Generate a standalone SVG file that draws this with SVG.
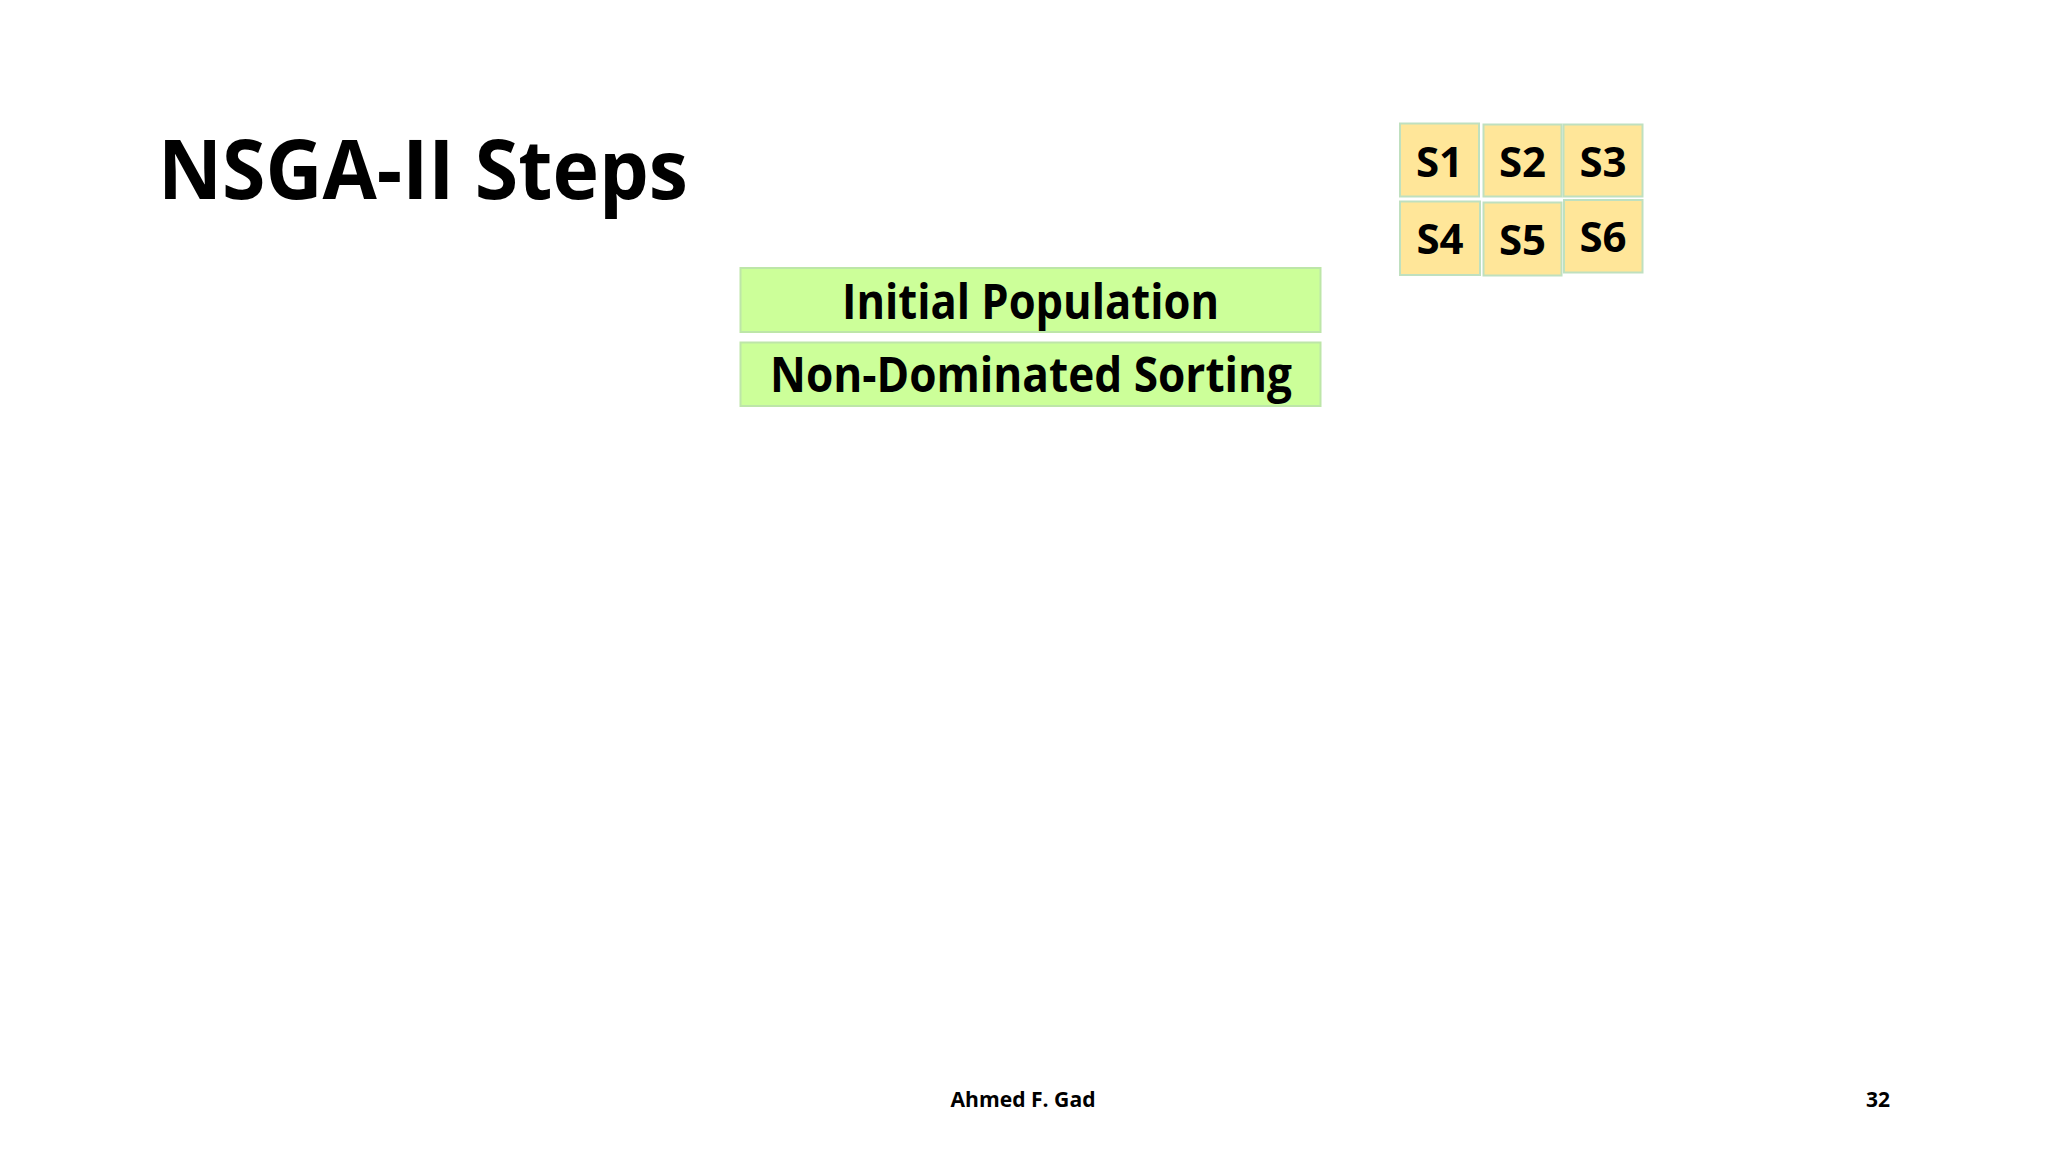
<svg xmlns="http://www.w3.org/2000/svg" width="2048" height="1152" viewBox="0 0 2048 1152">
<style>
text{font-family:"Open Sans","Noto Sans","Liberation Sans",sans-serif;font-weight:bold;fill:#000}
.step rect{fill:#ccff99;stroke:#bde6a8;stroke-width:2}
.step text{font-size:48px;text-anchor:middle}
.sol rect{fill:#ffe699;stroke:#bfe0bf;stroke-width:2}
.sol text{font-size:42px;text-anchor:middle}
.foot{font-size:21px;text-anchor:middle}
</style>
<rect width="2048" height="1152" fill="#ffffff"/>
<text id="title" x="158" y="198.5" font-size="83" textLength="530" lengthAdjust="spacingAndGlyphs">NSGA-II Steps</text>
<g id="initial-population" class="step">
<rect x="740.5" y="268" width="580" height="64"/>
<text x="1030.5" y="318.5" textLength="377" lengthAdjust="spacingAndGlyphs">Initial Population</text>
</g>
<g id="non-dominated-sorting" class="step">
<rect x="740.5" y="342.5" width="580" height="63.5"/>
<text x="1031" y="391.7" textLength="522" lengthAdjust="spacingAndGlyphs">Non-Dominated Sorting</text>
</g>
<g id="s1" class="sol"><rect x="1400" y="123.5" width="79" height="73"/><text x="1439.5" y="176.7">S1</text></g>
<g id="s2" class="sol"><rect x="1483.5" y="124.5" width="78" height="72"/><text x="1522.5" y="176.7">S2</text></g>
<g id="s3" class="sol"><rect x="1563.5" y="124.5" width="79" height="72"/><text x="1603" y="176.7">S3</text></g>
<g id="s4" class="sol"><rect x="1400" y="201.5" width="80" height="73.5"/><text x="1440" y="254.3">S4</text></g>
<g id="s5" class="sol"><rect x="1483.5" y="202.5" width="78" height="73"/><text x="1522.5" y="255">S5</text></g>
<g id="s6" class="sol"><rect x="1564" y="200" width="78.5" height="72.5"/><text x="1603" y="251.7">S6</text></g>
<g id="connectors"></g>
<text class="foot" x="1023" y="1106.7" textLength="145" lengthAdjust="spacingAndGlyphs">Ahmed F. Gad</text>
<text x="1878" y="1106.7" font-size="21" text-anchor="middle">32</text>
</svg>
